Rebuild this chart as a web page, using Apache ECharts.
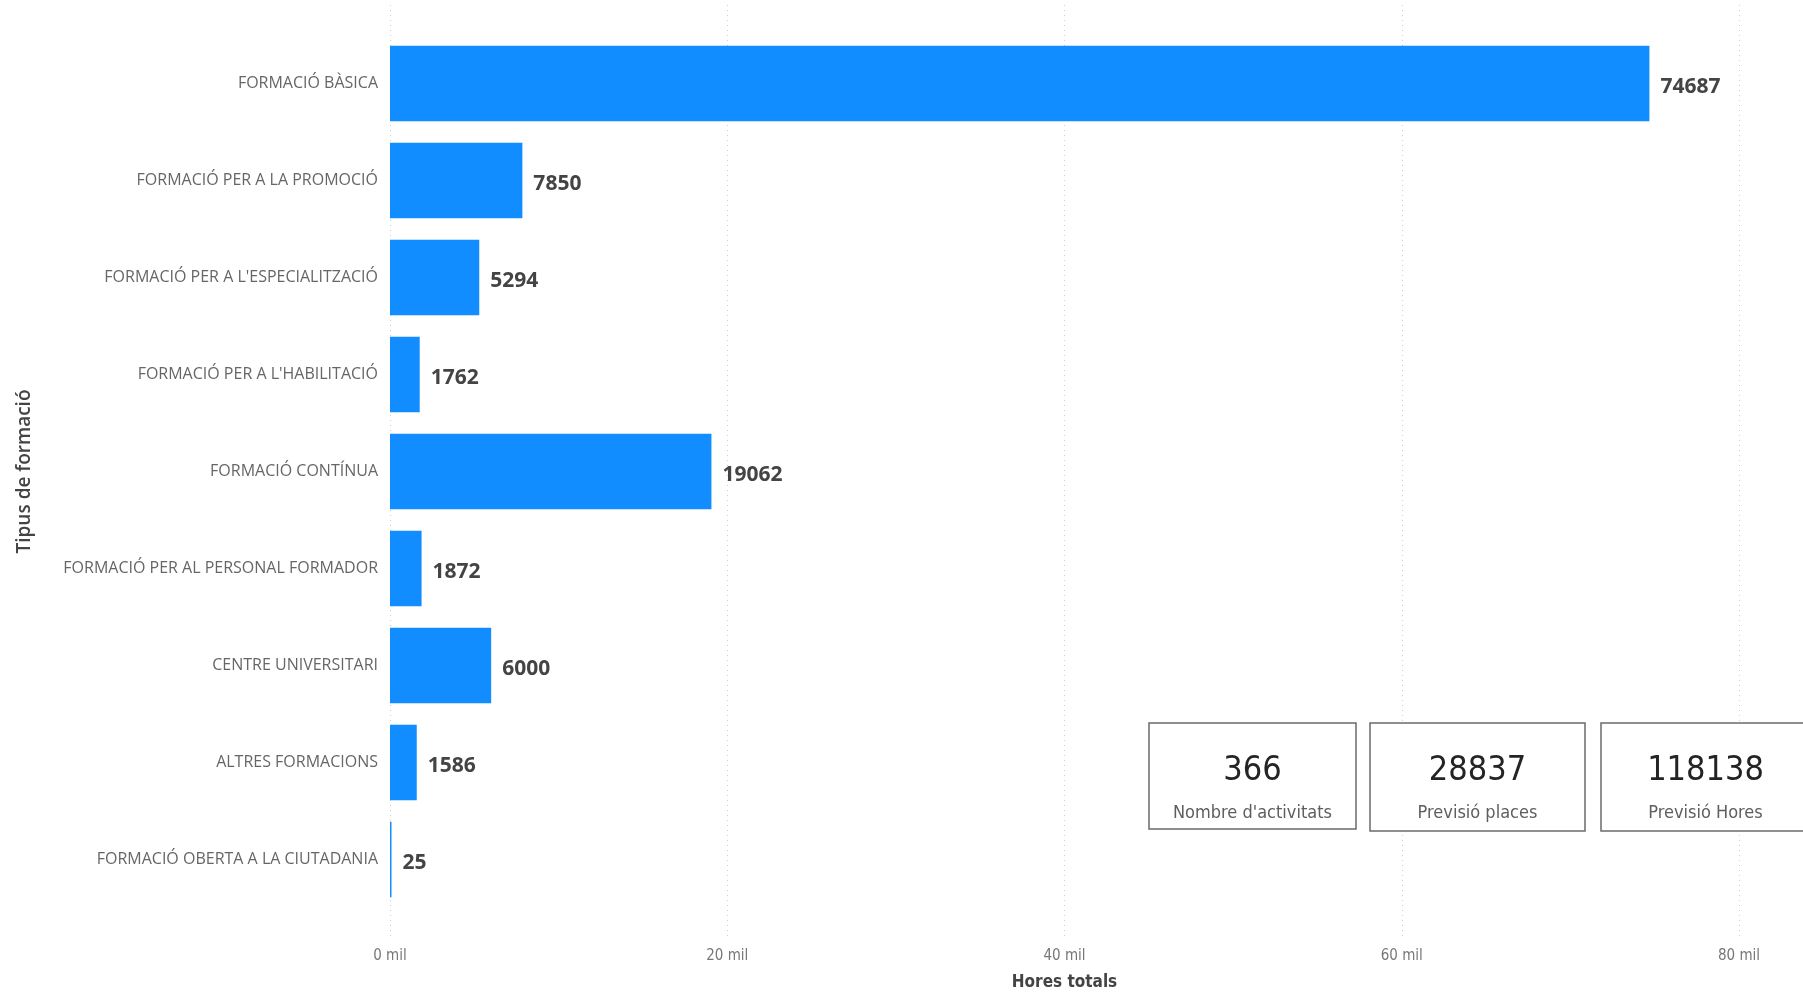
<!DOCTYPE html>
<html>
<head>
<meta charset="utf-8">
<script src="https://cdn.jsdelivr.net/npm/echarts@6/dist/echarts.min.js"></script>
<style>
html,body{margin:0;padding:0;background:#fff;}
#chart{width:1803px;height:992px;}
</style>
</head>
<body>
<div id="chart"></div>
<script>
const categories = [
  'FORMACIÓ BÀSICA',
  'FORMACIÓ PER A LA PROMOCIÓ',
  "FORMACIÓ PER A L'ESPECIALITZACIÓ",
  "FORMACIÓ PER A L'HABILITACIÓ",
  'FORMACIÓ CONTÍNUA',
  'FORMACIÓ PER AL PERSONAL FORMADOR',
  'CENTRE UNIVERSITARI',
  'ALTRES FORMACIONS',
  'FORMACIÓ OBERTA A LA CIUTADANIA'
];
const hores = [74687, 7850, 5294, 1762, 19062, 1872, 6000, 1586, 25];
const xTicks = [0, 20000, 40000, 60000, 80000];
const kpiValues = ['366', '28837', '118138'];
const kpiLabels = ["Nombre d'activitats", 'Previsió places', 'Previsió Hores'];

const chart = echarts.init(document.getElementById('chart'));
const narrow = "'Liberation Sans Narrow','DejaVu Sans Condensed','Roboto',sans-serif";
const body = "'Open Sans','Noto Sans',sans-serif";

const cardBoxes = [
  {x: 1149, y: 723, w: 207, h: 106},
  {x: 1370, y: 723, w: 215, h: 108},
  {x: 1601, y: 723, w: 215, h: 108}
];
const graphics = [];
cardBoxes.forEach((b, i) => {
  graphics.push({
    type: 'rect', shape: {x: b.x, y: b.y, width: b.w, height: b.h},
    style: {fill: '#fff', stroke: '#6b6b6b', lineWidth: 1.5}, z: 10
  });
  graphics.push({
    type: 'text', x: b.x + b.w / 2 - (i === 2 ? 3 : 0), y: b.y + 48,
    style: {text: kpiValues[i], fill: '#252423', font: "34px " + narrow, textAlign: 'center', textVerticalAlign: 'middle'}, z: 11
  });
  graphics.push({
    type: 'text', x: b.x + b.w / 2 - (i === 2 ? 3 : 0), y: b.y + 90,
    style: {text: kpiLabels[i], fill: '#605E5C', font: "18px " + narrow, textAlign: 'center', textVerticalAlign: 'middle'}, z: 11
  });
});

chart.setOption({
  animation: false,
  backgroundColor: '#fff',
  grid: [
    {left: 390, right: 64, top: 5, bottom: 56, outerBoundsMode: 'none', outerBoundsContain: 'axisLabel', containLabel: false},
    {left: 390, right: 64, top: 35, bottom: 84, outerBoundsMode: 'none', containLabel: false}
  ],
  xAxis: [
    {
      gridIndex: 0, type: 'value', min: xTicks[0], max: xTicks[xTicks.length - 1], interval: xTicks[1] - xTicks[0],
      axisLine: {show: false}, axisTick: {show: false},
      splitLine: {show: true, lineStyle: {color: '#d0d0d0', type: [1, 4], width: 1}},
      axisLabel: {color: '#777', fontFamily: narrow, fontSize: 15, margin: 13, formatter: v => (v / 1000) + ' mil'},
      name: 'Hores totals', nameLocation: 'middle', nameGap: 38,
      nameTextStyle: {color: '#444', fontFamily: narrow, fontSize: 17, fontWeight: 'bold'}
    },
    {
      gridIndex: 1, type: 'value', min: xTicks[0], max: xTicks[xTicks.length - 1], interval: xTicks[1] - xTicks[0],
      show: false, splitLine: {show: false}
    }
  ],
  yAxis: [
    {
      gridIndex: 0, type: 'value', show: false, splitLine: {show: false}
    },
    {
      gridIndex: 1, type: 'category', data: categories, inverse: true,
      axisLine: {show: false}, axisTick: {show: false},
      axisLabel: {color: '#666', fontFamily: body, fontSize: 16, margin: 12},
      name: 'Tipus de formació', nameLocation: 'middle', nameGap: 356, nameRotate: 90,
      nameTextStyle: {color: '#444', fontFamily: body, fontSize: 19, fontWeight: 600}
    }
  ],
  series: [{
    type: 'bar', xAxisIndex: 1, yAxisIndex: 1, data: hores,
    barCategoryGap: '22%', barMinHeight: 1.5,
    itemStyle: {color: '#118DFF'},
    label: {
      show: true, position: 'right', distance: 11, offset: [0, 4],
      color: '#444', fontFamily: body, fontSize: 21, fontWeight: 'bold'
    }
  }],
  graphic: graphics
});
</script>
</body>
</html>
